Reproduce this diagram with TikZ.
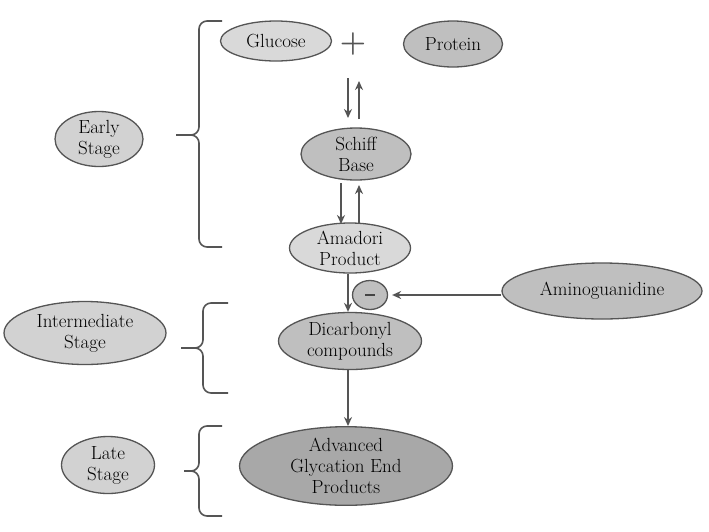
\documentclass[tikz,border=0pt]{standalone}
\usetikzlibrary{shapes.geometric,arrows.meta}
\definecolor{edge}{HTML}{555555}
\definecolor{lightfill}{HTML}{D9D9D9}
\definecolor{midfill}{HTML}{BFBFBF}
\definecolor{darkfill}{HTML}{A8A8A8}
\definecolor{stagefill}{HTML}{D2D2D2}
\tikzset{
  oval/.style={ellipse, draw=edge, line width=1.3pt, inner sep=0pt, align=center,
    font=\rmfamily\fontsize{19}{21}\selectfont, text=black},
  arr/.style={draw=edge, line width=1.6pt, -{Stealth[length=9pt,width=8pt]}},
  bracestyle/.style={draw=edge, line width=1.6pt, line join=round},
}
\begin{document}
\begin{tikzpicture}[x=1pt,y=-1pt]
\useasboundingbox (0,0) rectangle (709,531);
\fill[white] (0,0) rectangle (709,531);

% main chain
\node[oval, fill=lightfill, minimum width=111pt, minimum height=40pt] (glucose) at (276,41) {Glucose};
\node[font=\rmfamily\bfseries\fontsize{30}{30}\selectfont, text=edge, inner sep=0pt] (plus) at (353,44) {+};
\node[oval, fill=midfill, minimum width=99pt, minimum height=46pt] (protein) at (453,44) {Protein};
\node[oval, fill=midfill, minimum width=110pt, minimum height=52pt] (schiff) at (356,154) {Schiff\\Base};
\node[oval, fill=lightfill, minimum width=121pt, minimum height=50pt] (amadori) at (350,248) {Amadori\\Product};
\node[ellipse, draw=edge, line width=1.3pt, fill=midfill, minimum width=35pt, minimum height=29pt, inner sep=0pt] (minus) at (370,295) {};
\fill[edge!80!black] ([xshift=-5pt,yshift=-1.2pt]minus.center) rectangle ([xshift=5pt,yshift=1.2pt]minus.center);
\node[oval, fill=midfill, minimum width=200pt, minimum height=56pt] (amino) at (602,291) {Aminoguanidine};
\node[oval, fill=midfill, minimum width=143pt, minimum height=57pt] (dicarb) at (350,341) {Dicarbonyl\\compounds};
\node[oval, fill=darkfill, minimum width=213pt, minimum height=68pt] (age) at (346,466) {Advanced\\Glycation End\\Products};

% stage labels
\node[oval, fill=stagefill, minimum width=88pt, minimum height=55pt] (early) at (99,139) {Early\\Stage};
\node[oval, fill=stagefill, minimum width=162pt, minimum height=63pt] (inter) at (85,333) {Intermediate\\Stage};
\node[oval, fill=stagefill, minimum width=93pt, minimum height=57pt] (late) at (108,465) {Late\\Stage};

% reversible arrows
\coordinate (a1s) at (348,78);
\coordinate (a1e) at (348,118);
\coordinate (b1s) at (359,119);
\coordinate (b1e) at (359,81);
\draw[arr] (a1s) -- (a1e);
\draw[arr] (b1s) -- (b1e);
\coordinate (a2s) at (341,183);
\coordinate (a2e) at (341,224);
\coordinate (b2s) at (359,224);
\coordinate (b2e) at (359,185);
\draw[arr] (a2s) -- (a2e);
\draw[arr] (b2s) -- (b2e);

% forward arrows
\draw[arr] (amadori.south -| 348,0) -- (dicarb.north -| 348,0);
\draw[arr] (dicarb.south -| 348,0) -- (age.north -| 348,0);
\draw[arr, shorten >=4pt] (amino.west |- minus.east) -- (minus.east);

% braces
\draw[bracestyle] (222,21) -- (207,21) to[out=180,in=90] (199,29) -- (199,127)
  to[out=270,in=0] (191,135) -- (176,135);
\draw[bracestyle] (191,135) to[out=0,in=90] (199,143) -- (199,239)
  to[out=270,in=180] (207,247) -- (222,247);

\draw[bracestyle] (228,303) -- (211,303) to[out=180,in=90] (203,311) -- (203,340)
  to[out=270,in=0] (195,348) -- (181,348);
\draw[bracestyle] (195,348) to[out=0,in=90] (203,356) -- (203,385)
  to[out=270,in=180] (211,393) -- (228,393);

\draw[bracestyle] (222,426) -- (207,426) to[out=180,in=90] (199,434) -- (199,463)
  to[out=270,in=0] (191,471) -- (184,471);
\draw[bracestyle] (191,471) to[out=0,in=90] (199,479) -- (199,508)
  to[out=270,in=180] (207,516) -- (222,516);
\end{tikzpicture}
\end{document}
